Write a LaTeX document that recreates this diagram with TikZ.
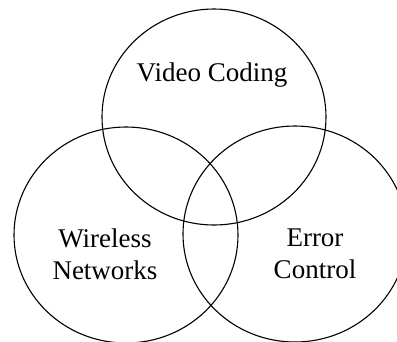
\documentclass[tikz,border=0pt]{standalone}
\usepackage{fontspec}
\setmainfont{Liberation Serif}
\usepackage{tikz}

\tikzset{
  field/.style={line width=1.1pt},
  fieldlabel/.style={font=\fontsize{27}{32}\selectfont, align=center, inner sep=0pt}
}

\begin{document}
\begin{tikzpicture}[x=1pt,y=-1pt]

  \newcommand\RX{112}
  \newcommand\RY{108}

  \useasboundingbox (0,0) rectangle (397,341);
  \clip (0,0) rectangle (397,341);

  \coordinate (cv) at (214,117);  %% video coding
  \coordinate (cw) at (126,235);  %% wireless networks
  \coordinate (ce) at (295,234);  %% error control

  \draw[field] (cv) ellipse [x radius=\RX, y radius=\RY];
  \draw[field] (cw) ellipse [x radius=\RX, y radius=\RY];
  \draw[field] (ce) ellipse [x radius=\RX, y radius=\RY];

  \node[fieldlabel] (video) at (212,75) {Video Coding};
  \node[fieldlabel] (wireless) at (105,254) {Wireless\\Networks};
  \node[fieldlabel] (error) at (315,254) {Error\\Control};

\end{tikzpicture}
\end{document}
